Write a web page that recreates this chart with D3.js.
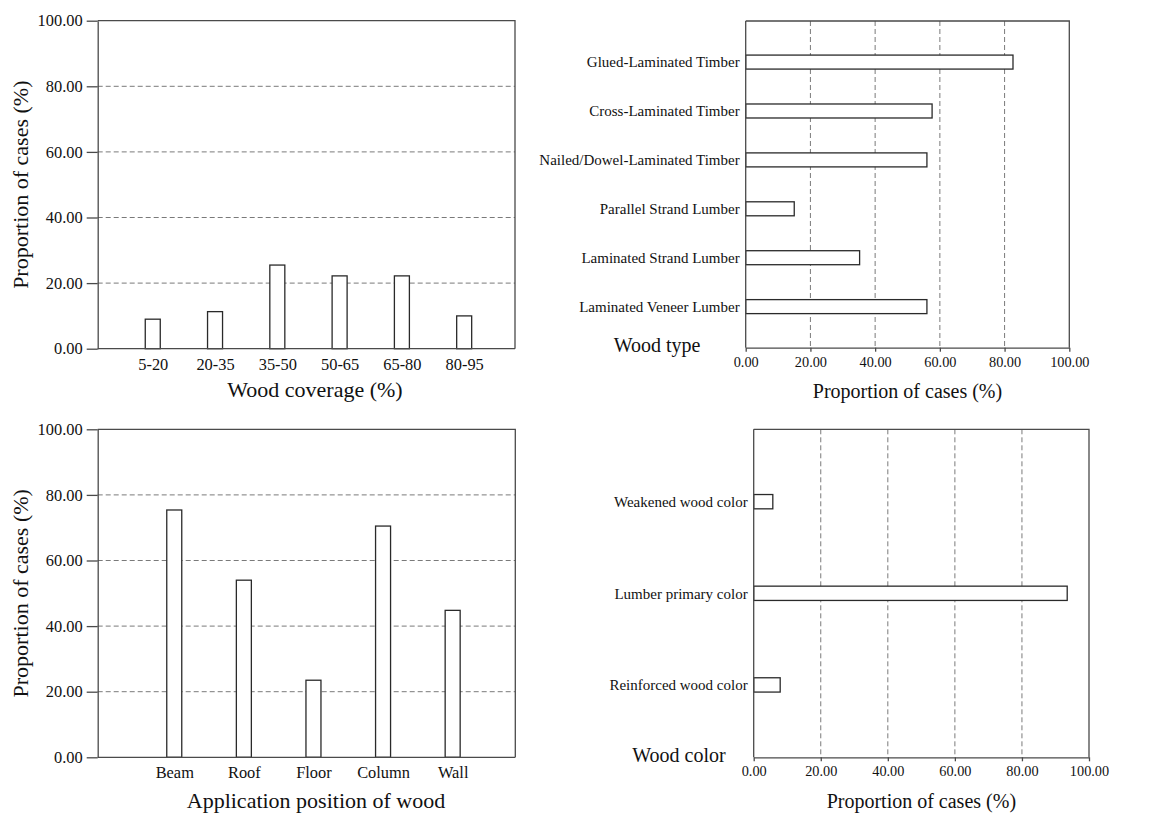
<!DOCTYPE html>
<html>
<head>
<meta charset="utf-8">
<script src="https://cdn.jsdelivr.net/npm/d3@7"></script>
<style>
  body { margin: 0; background: #fff; }
  svg { display: block; font-family: "Liberation Serif", "Times New Roman", serif; }
</style>
</head>
<body>
<svg id="chart" width="1152" height="815"></svg>
<script>
// wood coverage (top left)
var coverageCats = ["5-20", "20-35", "35-50", "50-65", "65-80", "80-95"];
var coverageVals = [9.0, 11.3, 25.5, 22.2, 22.2, 10.0];

// wood type (top right), listed top to bottom
var typeCats = ["Glued-Laminated Timber", "Cross-Laminated Timber", "Nailed/Dowel-Laminated Timber",
                "Parallel Strand Lumber", "Laminated Strand Lumber", "Laminated Veneer Lumber"];
var typeVals = [82.6, 57.6, 56.0, 15.0, 35.2, 56.0];

// application position (bottom left)
var positionCats = ["Beam", "Roof", "Floor", "Column", "Wall"];
var positionVals = [75.4, 54.0, 23.5, 70.5, 44.8];

// wood color (bottom right), listed top to bottom
var colorCats = ["Weakened wood color", "Lumber primary color", "Reinforced wood color"];
var colorVals = [5.7, 93.5, 7.9];

var pctTicks = [0, 20, 40, 60, 80, 100];

var svg = d3.select("#chart");
var fmt = d3.format(".2f");
var axisCol = "#4a4a4a", gridCol = "#7a7a7a", barCol = "#2a2a2a";

// vertical bars, categories along x
function vpanel(p) {
    var g = svg.append("g");
    var x = d3.scalePoint().domain(p.cats).range([p.l, p.r]).padding(p.pad).align(p.align);
    var y = d3.scaleLinear().domain([0, 100]).range([p.b, p.t]);

    g.selectAll(".grid").data([20, 40, 60, 80]).enter().append("line")
        .attr("x1", p.l).attr("x2", p.r)
        .attr("y1", function(d){ return y(d); }).attr("y2", function(d){ return y(d); })
        .attr("stroke", gridCol).attr("stroke-width", 1).attr("stroke-dasharray", "5,3");

    g.selectAll(".bar").data(p.vals).enter().append("rect")
        .attr("x", function(d, i){ return x(p.cats[i]) - 7.5; })
        .attr("width", 15)
        .attr("y", function(d){ return y(d); })
        .attr("height", function(d){ return y(0) - y(d); })
        .attr("fill", "#fff").attr("stroke", barCol).attr("stroke-width", 1.3);

    // box
    g.append("path")
        .attr("d", "M" + p.l + "," + p.t + "H" + p.r + "V" + p.b)
        .attr("fill", "none").attr("stroke", axisCol).attr("stroke-width", 1.3);

    var ya = g.append("g").attr("transform", "translate(" + p.l + ",0)")
        .call(d3.axisLeft(y).tickValues(pctTicks).tickFormat(fmt).tickSize(11).tickSizeOuter(0).tickPadding(4));
    var xa = g.append("g").attr("transform", "translate(0," + p.b + ")")
        .call(d3.axisBottom(x).tickSize(0).tickPadding(9.5));
    [ya, xa].forEach(function(a){
        a.select(".domain").attr("stroke", axisCol).attr("stroke-width", 1.3);
        a.selectAll(".tick line").attr("stroke", axisCol).attr("stroke-width", 1.3);
        a.selectAll("text").attr("font-family", "Liberation Serif, Times New Roman, serif")
            .attr("font-size", 16.4).attr("fill", "#111");
    });
    xa.select(".domain").attr("d", "M" + p.l + ",0H" + p.r);

    g.append("text").attr("x", p.titleX).attr("y", p.titleY)
        .attr("text-anchor", "middle").attr("font-size", 22).attr("fill", "#111")
        .text(p.xTitle);
    g.append("text")
        .attr("transform", "translate(28," + ((p.t + p.b) / 2) + ") rotate(-90)")
        .attr("text-anchor", "middle").attr("font-size", 22).attr("fill", "#111")
        .text("Proportion of cases (%)");
}

// horizontal bars, categories along y
function hpanel(p) {
    var g = svg.append("g");
    var x = d3.scaleLinear().domain([0, 100]).range([p.l, p.r]);
    var y = d3.scalePoint().domain(p.cats).range([p.t, p.b]).padding(p.pad);

    g.selectAll(".grid").data([20, 40, 60, 80]).enter().append("line")
        .attr("y1", p.t).attr("y2", p.b)
        .attr("x1", function(d){ return x(d); }).attr("x2", function(d){ return x(d); })
        .attr("stroke", gridCol).attr("stroke-width", 1).attr("stroke-dasharray", "5,3");

    g.selectAll(".bar").data(p.vals).enter().append("rect")
        .attr("y", function(d, i){ return y(p.cats[i]) - p.bh / 2; })
        .attr("height", p.bh)
        .attr("x", x(0))
        .attr("width", function(d){ return x(d) - x(0); })
        .attr("fill", "#fff").attr("stroke", barCol).attr("stroke-width", 1.3);

    g.append("path")
        .attr("d", "M" + p.l + "," + p.t + "H" + p.r + "V" + p.b)
        .attr("fill", "none").attr("stroke", axisCol).attr("stroke-width", 1.3);

    var xa = g.append("g").attr("transform", "translate(0," + p.b + ")")
        .call(d3.axisBottom(x).tickValues(pctTicks).tickFormat(fmt).tickSize(4).tickSizeOuter(0).tickPadding(5));
    var ya = g.append("g").attr("transform", "translate(" + p.l + ",0)")
        .call(d3.axisLeft(y).tickSize(0).tickPadding(6));
    xa.selectAll("text").attr("font-size", 14.3);
    ya.selectAll("text").attr("font-size", 15);
    ya.select(".domain").attr("d", "M0," + p.t + "V" + p.b);
    [ya, xa].forEach(function(a){
        a.select(".domain").attr("stroke", axisCol).attr("stroke-width", 1.3);
        a.selectAll(".tick line").attr("stroke", axisCol).attr("stroke-width", 1.3);
        a.selectAll("text").attr("font-family", "Liberation Serif, Times New Roman, serif").attr("fill", "#111");
    });

    g.append("text").attr("x", (p.l + p.r) / 2).attr("y", p.titleY)
        .attr("text-anchor", "middle").attr("font-size", 20).attr("fill", "#111")
        .text("Proportion of cases (%)");
    g.append("text").attr("x", p.catX).attr("y", p.catY)
        .attr("text-anchor", "middle").attr("font-size", 20).attr("fill", "#111")
        .text(p.catTitle);
}

vpanel({cats: coverageCats, vals: coverageVals, l: 97.7, r: 515, t: 20.7, b: 348.7,
        pad: 0.85, align: 0.52, xTitle: "Wood coverage (%)", titleX: 315, titleY: 397});
vpanel({cats: positionCats, vals: positionVals, l: 97.7, r: 515.3, t: 429.3, b: 757.3,
        pad: 1.0, align: 0.55, xTitle: "Application position of wood", titleX: 316, titleY: 808});
hpanel({cats: typeCats, vals: typeVals, l: 745.7, r: 1069.3, t: 21, b: 347.7,
        pad: 0.84, bh: 14, titleY: 398, catTitle: "Wood type", catX: 657, catY: 352});
hpanel({cats: colorCats, vals: colorVals, l: 753.7, r: 1089, t: 429.3, b: 757.3,
        pad: 0.79, bh: 14.3, titleY: 808, catTitle: "Wood color", catX: 679, catY: 762});
</script>
</body>
</html>
